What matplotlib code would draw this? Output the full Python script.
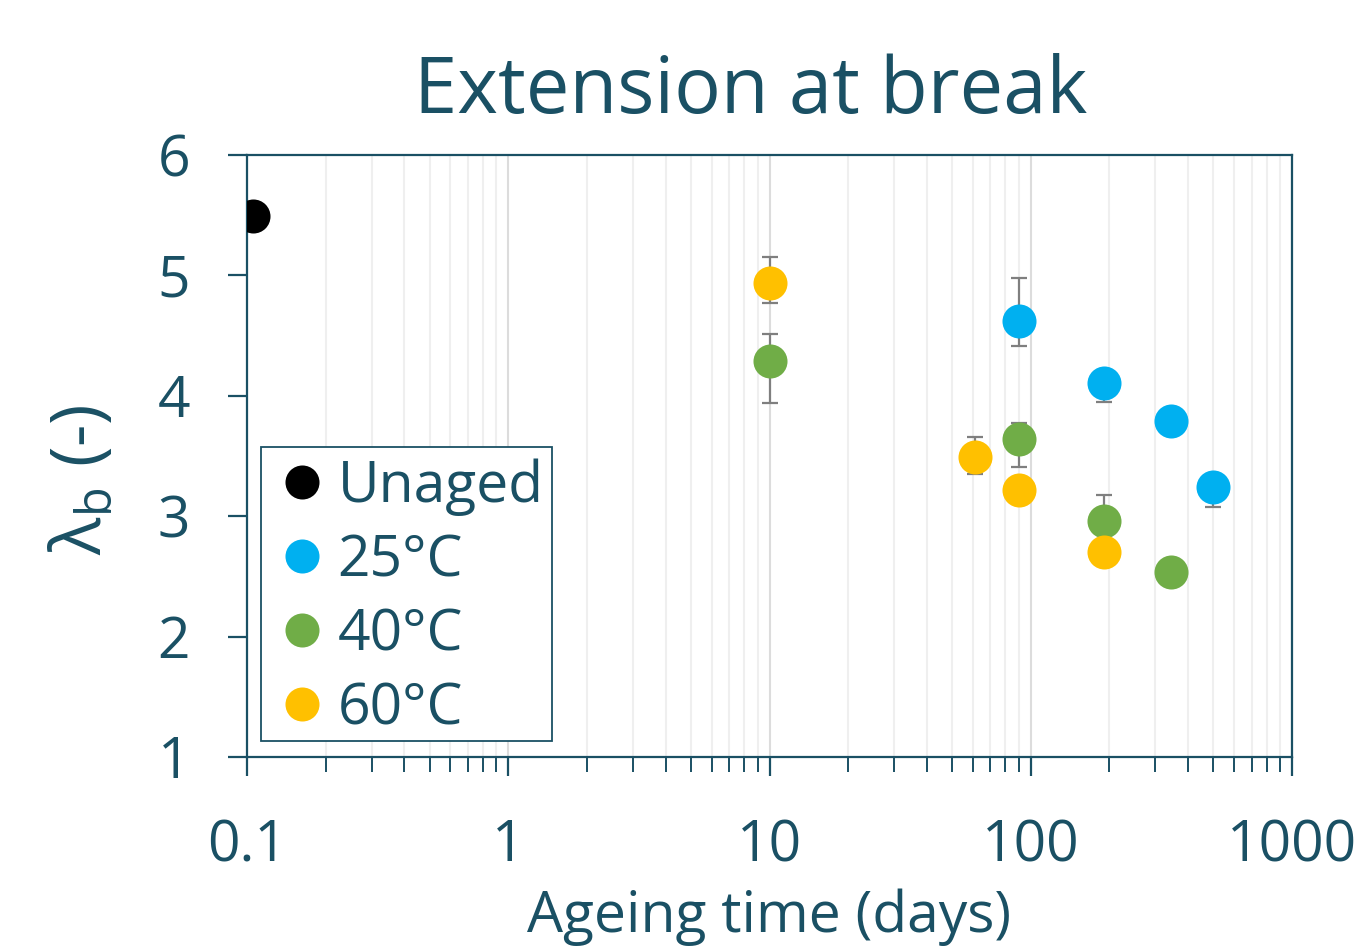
import matplotlib
matplotlib.use("Agg")
import matplotlib.pyplot as plt
import numpy as np
from matplotlib.ticker import LogLocator, FixedLocator, NullFormatter
from matplotlib.patches import Rectangle

plt.rcParams['font.family'] = ['Open Sans', 'DejaVu Sans']

TXT = '#1A5064'

unaged_x = [0.105]
unaged_y = [5.49]

t25_x = [90, 190, 345, 500]
t25_y = [4.62, 4.11, 3.79, 3.24]
t25_lo = [0.21, 0.16, 0.0, 0.16]
t25_hi = [0.36, 0.0, 0.0, 0.0]

t40_x = [10, 90, 190, 345]
t40_y = [4.29, 3.64, 2.96, 2.54]
t40_lo = [0.35, 0.23, 0.0, 0.0]
t40_hi = [0.22, 0.13, 0.22, 0.0]

t60_x = [10, 61, 90, 190]
t60_y = [4.94, 3.49, 3.22, 2.70]
t60_lo = [0.17, 0.14, 0.0, 0.0]
t60_hi = [0.21, 0.17, 0.0, 0.0]

xticks = [0.1, 1, 10, 100, 1000]
xticklabels = ['0.1', '1', '10', '100', '1000']
yticks = [1, 2, 3, 4, 5, 6]

fig = plt.figure(figsize=(13.62, 9.46), dpi=100)
ax = fig.add_axes([247/1362, 1-757/946, (1292-247)/1362, (757-155)/946])

ms = 24.5
errkw = dict(ecolor='#7F7F7F', elinewidth=1.6, capsize=6, capthick=1.6, zorder=2)

ax.plot(unaged_x, unaged_y, 'o', color='black', ms=ms, mec='none', zorder=3, label='Unaged')
for xs, ys, lo, hi, col, lab in [
    (t25_x, t25_y, t25_lo, t25_hi, '#00B0F0', '25°C'),
    (t40_x, t40_y, t40_lo, t40_hi, '#70AD47', '40°C'),
    (t60_x, t60_y, t60_lo, t60_hi, '#FFC000', '60°C'),
]:
    ax.errorbar(xs, ys, yerr=[lo, hi], fmt='none', **errkw)
    ax.plot(xs, ys, 'o', color=col, ms=ms, mec='none', zorder=3, label=lab)

ax.set_xscale('log')
ax.set_xlim(0.1, 1000)
ax.set_ylim(1, 6)
ax.xaxis.set_major_locator(FixedLocator(xticks))
ax.set_xticklabels(xticklabels)
ax.xaxis.set_minor_locator(LogLocator(base=10, subs=np.arange(2, 10)))
ax.xaxis.set_minor_formatter(NullFormatter())
ax.set_yticks(yticks)

ax.grid(True, which='major', axis='x', color='#DCDCDC', lw=1.5, zorder=0)
ax.grid(True, which='minor', axis='x', color='#EFEFEF', lw=1.5, zorder=0)
ax.set_axisbelow(True)

for s in ax.spines.values():
    s.set_color(TXT)
    s.set_linewidth(1.6)

ax.tick_params(axis='x', which='major', direction='out', length=14, width=1.6, color=TXT,
               labelsize=41, labelcolor=TXT, pad=30)
ax.tick_params(axis='x', which='minor', direction='out', length=11, width=1.4, color=TXT)
ax.tick_params(axis='y', which='major', direction='out', length=14, width=1.6, color=TXT,
               labelsize=41, labelcolor=TXT, pad=27)

ax.set_xlabel('Ageing time (days)', fontsize=41, color=TXT, labelpad=10)
ax.set_ylabel('λ$_{\\mathregular{b}}$ (-)', fontsize=50, color=TXT)
ax.yaxis.set_label_coords(-0.1234, 0.46)
ax.set_title('Extension at break', fontsize=56, color=TXT, pad=30, x=0.482)

# legend frame drawn as a box in axes coordinates
frame = Rectangle((14/1045, 16/602), 291/1045, 294/602, transform=ax.transAxes,
                  facecolor='white', edgecolor=TXT, lw=1.3, zorder=4)
ax.add_patch(frame)

leg = ax.legend(loc='center left', bbox_to_anchor=(41/1045, (757-598.5)/602),
                fontsize=41, frameon=False, markerscale=1.0, handlelength=0.5,
                handletextpad=0.37, labelspacing=0.3, borderpad=0, labelcolor=TXT,
                borderaxespad=0)
leg.set_zorder(5)

fig.savefig('out.png', dpi=100)
